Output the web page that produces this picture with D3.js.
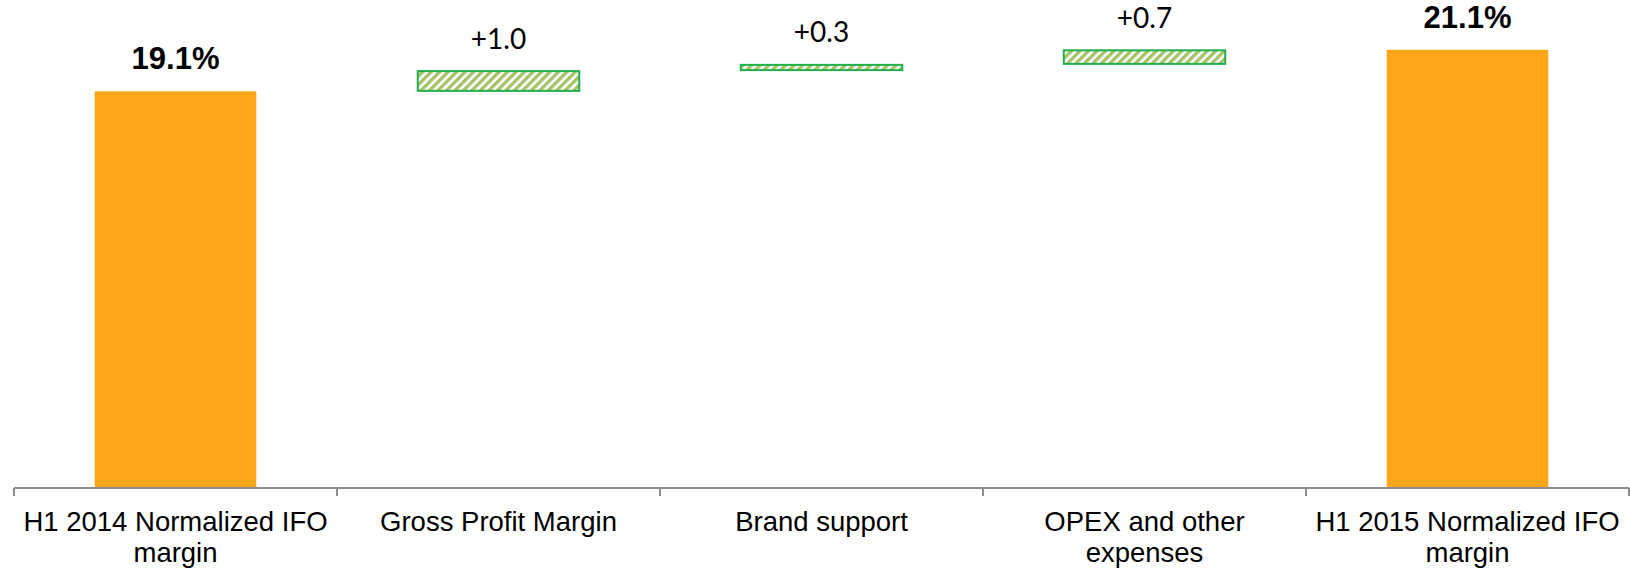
<!DOCTYPE html>
<html>
<head>
<meta charset="utf-8">
<script src="https://cdn.jsdelivr.net/npm/d3@7"></script>
<style>
  html, body { margin: 0; padding: 0; background: #fff; }
  svg { display: block; }
</style>
</head>
<body>
<svg id="chart" width="1630" height="571"></svg>
<script>
// Waterfall: H1 2014 -> H1 2015 normalized IFO margin bridge
const categories = [
  "H1 2014 Normalized IFO margin",
  "Gross Profit Margin",
  "Brand support",
  "OPEX and other expenses",
  "H1 2015 Normalized IFO margin"
];
const kinds = ["total", "delta", "delta", "delta", "total"];
const values = [19.1, 1.0, 0.3, 0.7, 21.1];

// Build start/end for each step of the bridge
let running = 0;
const steps = categories.map((c, i) => {
  let y0, y1;
  if (kinds[i] === "total") { y0 = 0; y1 = values[i]; running = values[i]; }
  else { y0 = running; y1 = running + values[i]; running = y1; }
  return { cat: c, kind: kinds[i], value: values[i], y0, y1 };
});

const svg = d3.select("#chart");
const axisY = 488;

const x = d3.scaleBand()
  .domain(categories)
  .range([14, 1629])
  .paddingInner(0.5)
  .paddingOuter(0.25);

const y = d3.scaleLinear().domain([0, 23.5]).range([axisY, 0]);

// Diagonal hatch for the incremental bars
const defs = svg.append("defs");
const pat = defs.append("pattern")
  .attr("id", "hatch")
  .attr("patternUnits", "userSpaceOnUse")
  .attr("width", 6).attr("height", 6)
  .attr("patternTransform", "rotate(45)");
pat.append("rect").attr("width", 6).attr("height", 6).attr("fill", "#ffffff");
pat.append("rect").attr("x", 0).attr("y", 0).attr("width", 3.4).attr("height", 6).attr("fill", "#a6c36a");

// Bars
svg.append("g").selectAll("rect")
  .data(steps)
  .join("rect")
  .attr("x", d => x(d.cat))
  .attr("width", x.bandwidth())
  .attr("y", d => d.kind === "total" ? y(d.y1) : y(d.y1) + 0.5)
  .attr("height", d => d.kind === "total" ? y(d.y0) - y(d.y1) : Math.max(1, y(d.y0) - y(d.y1) - 1))
  .attr("fill", d => d.kind === "total" ? "#fda619" : "url(#hatch)")
  .attr("stroke", d => d.kind === "total" ? "none" : "#21b04b")
  .attr("stroke-width", 2);

// Value labels
svg.append("g").selectAll("text")
  .data(steps)
  .join("text")
  .attr("x", d => x(d.cat) + x.bandwidth() / 2)
  .attr("y", d => y(d.y1) - 22)
  .attr("text-anchor", "middle")
  .attr("fill", "#000")
  .style("font-family", d => d.kind === "total" ? "'Liberation Sans', Arial, sans-serif" : "Lato, 'Open Sans', sans-serif")
  .style("font-size", d => d.kind === "total" ? "31px" : "28px")
  .style("font-weight", d => d.kind === "total" ? "bold" : "normal")
  .text(d => d.kind === "total" ? d3.format(".1f")(d.value) + "%" : d3.format("+.1f")(d.value));

// Category axis with ticks at band boundaries
const axisG = svg.append("g");
const step = x.step();
const x0 = x.range()[0];
axisG.append("line")
  .attr("x1", x0).attr("x2", x.range()[1])
  .attr("y1", axisY).attr("y2", axisY)
  .attr("stroke", "#8c8c8c").attr("stroke-width", 2);
axisG.selectAll("line.tick")
  .data(d3.range(categories.length + 1))
  .join("line")
  .attr("class", "tick")
  .attr("x1", i => x0 + i * step).attr("x2", i => x0 + i * step)
  .attr("y1", axisY).attr("y2", axisY + 8)
  .attr("stroke", "#8c8c8c").attr("stroke-width", 2);

// Wrapped category labels
const labelFont = "27.5px 'Liberation Sans', Arial, sans-serif";
const ctx = document.createElement("canvas").getContext("2d");
ctx.font = labelFont;
function wrap(text, maxW) {
  const words = text.split(" ");
  const lines = [];
  let line = "";
  words.forEach(w => {
    const test = line ? line + " " + w : w;
    if (ctx.measureText(test).width > maxW && line) { lines.push(line); line = w; }
    else line = test;
  });
  if (line) lines.push(line);
  return lines;
}
const labels = axisG.selectAll("text.cat")
  .data(categories)
  .join("text")
  .attr("class", "cat")
  .attr("text-anchor", "middle")
  .attr("fill", "#000")
  .style("font", labelFont);
labels.each(function(c) {
  const t = d3.select(this);
  const cx = x(c) + x.bandwidth() / 2;
  wrap(c, step * 0.97).forEach((ln, k) => {
    t.append("tspan").attr("x", cx).attr("y", 531 + k * 31).text(ln);
  });
});
</script>
</body>
</html>
